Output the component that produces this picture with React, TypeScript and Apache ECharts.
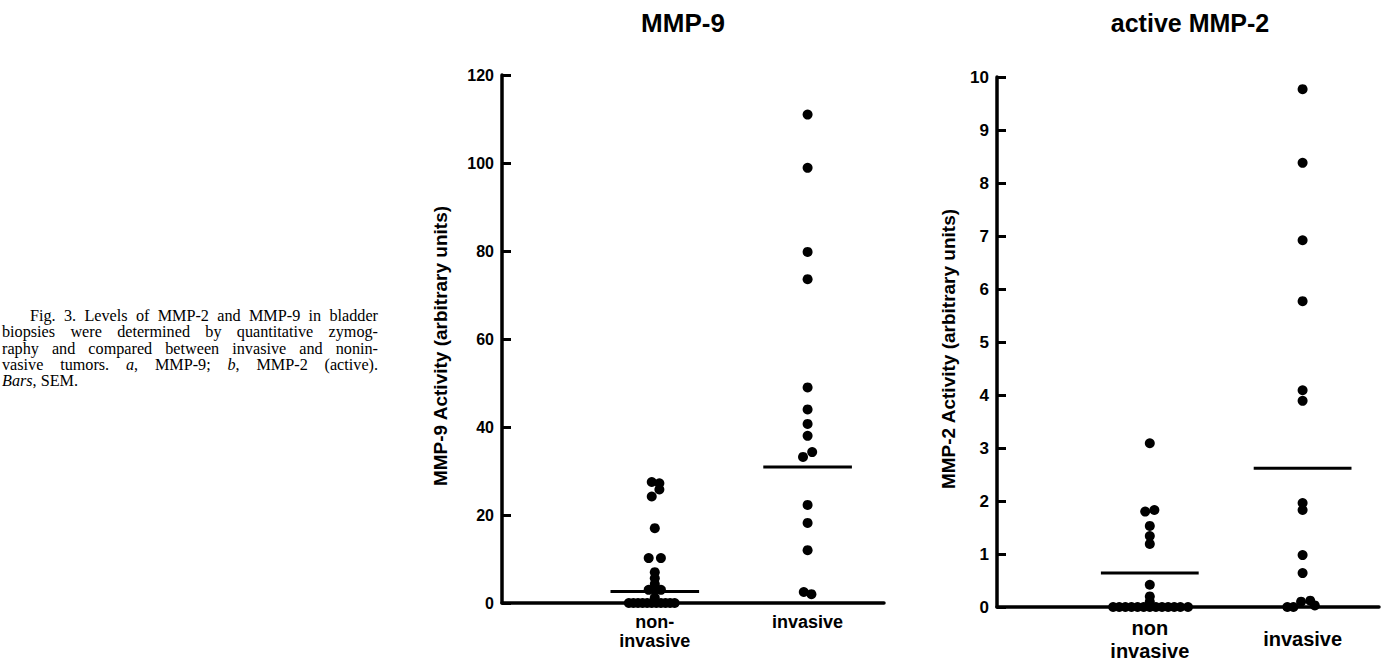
import React, { useEffect, useRef } from "react";
import * as echarts from "echarts";

// ---------- data ----------
const categoriesA = ["non-\ninvasive", "invasive"];
const categoriesB = ["non\ninvasive", "invasive"];

const titleA = "MMP-9";
const titleB = "active MMP-2";
const yNameA = "MMP-9 Activity (arbitrary units)";
const yNameB = "MMP-2 Activity (arbitrary units)";

// MMP-9, non-invasive (values, horizontal jitter)
const mmp9Non = [0, 0, 0, 0, 0, 0, 0, 0, 0, 0, 0, 1.2, 3.0, 3.0, 3.0, 4.3, 5.6, 7.0, 10.2, 10.2, 17.0, 24.2, 25.8, 27.2, 27.5];
const mmp9NonJitter = [-0.17, -0.14, -0.11, -0.08, -0.05, -0.02, 0.01, 0.04, 0.07, 0.1, 0.13, 0.0, -0.04, 0.0, 0.04, 0.0, 0.0, 0.0, -0.04, 0.04, 0.0, -0.02, 0.03, 0.03, -0.02];
// MMP-9, invasive
const mmp9Inv = [2.0, 2.5, 12.0, 18.2, 22.3, 33.2, 34.3, 38.0, 40.7, 44.0, 49.0, 73.6, 79.8, 98.9, 111.0];
const mmp9InvJitter = [0.025, -0.025, 0, 0, 0, -0.03, 0.03, 0, 0, 0, 0, 0, 0, 0, 0];
const mmp9Means = [2.6, 30.9];

// MMP-2 (active), non-invasive
const mmp2Non = [0, 0, 0, 0, 0, 0, 0, 0, 0, 0, 0, 0, 0, 0.1, 0.2, 0.42, 1.19, 1.34, 1.53, 1.8, 1.83, 3.09];
const mmp2NonJitter = [-0.24, -0.2, -0.16, -0.12, -0.08, -0.04, 0.0, 0.04, 0.08, 0.12, 0.16, 0.2, 0.25, 0, 0, 0, 0, 0, 0, -0.03, 0.03, 0];
// MMP-2 (active), invasive
const mmp2Inv = [0, 0, 0.1, 0.12, 0.03, 0.64, 0.98, 1.83, 1.96, 3.89, 4.09, 5.77, 6.92, 8.38, 9.77];
const mmp2InvJitter = [-0.1, -0.06, -0.01, 0.05, 0.08, 0, 0, 0, 0, 0, 0, 0, 0, 0, 0];
const mmp2Means = [0.64, 2.62];

const yTicksA = { min: 0, max: 120, interval: 20 };
const yTicksB = { min: 0, max: 10, interval: 1 };

// ---------- styling ----------
const FONT = '"Liberation Sans", Arial, Helvetica, sans-serif';
const INK = "#000";

function dots(values: number[], jitter: number[], pos: number) {
  return values.map((v, i) => [pos + jitter[i], v]);
}

function meanLine(mean: number, pos: number, half: number, gi: number) {
  return {
    type: "line",
    xAxisIndex: gi,
    yAxisIndex: gi,
    data: [
      [pos - half, mean],
      [pos + half, mean],
    ],
    symbol: "none",
    silent: true,
    lineStyle: { color: INK, width: 3, opacity: 1 },
    z: 4,
  };
}

function scatter(data: number[][], gi: number) {
  return {
    type: "scatter",
    xAxisIndex: gi,
    yAxisIndex: gi,
    data,
    symbol: "circle",
    symbolSize: 10,
    clip: false,
    silent: true,
    itemStyle: { color: INK, opacity: 1 },
    z: 5,
  };
}

export default function App() {
  const ref = useRef<HTMLDivElement>(null);

  useEffect(() => {
    if (!ref.current) return;
    const chart = echarts.init(ref.current, undefined, { renderer: "svg" });

    const xAxisBase = (gi: number, cats: string[], fontSize: number, lineHeight: number) => ({
      gridIndex: gi,
      type: "value",
      min: 0,
      max: 2.5,
      interval: 0.5,
      axisLine: { show: true, onZero: false, lineStyle: { color: INK, width: 3.5 } },
      axisTick: { show: false },
      splitLine: { show: false },
      axisLabel: {
        color: INK,
        fontFamily: FONT,
        fontWeight: "bold",
        fontSize,
        lineHeight,
        margin: 9,
        showMinLabel: true,
        showMaxLabel: true,
        formatter: (v: number) => {
          if (Math.abs(v - 1) < 1e-6) return cats[0];
          if (Math.abs(v - 2) < 1e-6) return gi === 1 ? "{m|" + cats[1] + "}" : cats[1];
          return "";
        },
        rich: {
          m: {
            fontFamily: FONT,
            fontWeight: "bold",
            fontSize,
            lineHeight: lineHeight * 2,
            color: INK,
          },
        },
      },
    });

    const yAxisBase = (
      gi: number,
      t: { min: number; max: number; interval: number },
      name: string,
      nameGap: number,
      labelSize: number
    ) => ({
      gridIndex: gi,
      type: "value",
      min: t.min,
      max: t.max,
      interval: t.interval,
      name,
      nameLocation: "middle",
      nameRotate: 90,
      nameGap,
      nameTextStyle: {
        color: INK,
        fontFamily: FONT,
        fontWeight: "bold",
        fontSize: 19,
        padding: [0, 14, 0, 0],
      },
      axisLine: { show: true, onZero: false, lineStyle: { color: INK, width: 3.5 } },
      axisTick: { show: true, inside: true, length: 9, lineStyle: { color: INK, width: 3 } },
      splitLine: { show: false },
      axisLabel: {
        color: INK,
        fontFamily: FONT,
        fontWeight: "bold",
        fontSize: labelSize,
        margin: 8,
      },
    });

    chart.setOption({
      animation: false,
      backgroundColor: "#fff",
      grid: [
        { left: 502, top: 75, width: 382, height: 528 },
        { left: 997, top: 77, width: 382, height: 530 },
      ],
      xAxis: [xAxisBase(0, categoriesA, 18, 19), xAxisBase(1, categoriesB, 20, 23)],
      yAxis: [
        yAxisBase(0, yTicksA, yNameA, 52, 16),
        yAxisBase(1, yTicksB, yNameB, 39, 17),
      ],
      graphic: [
        {
          type: "text",
          x: 683,
          y: 23,
          style: {
            text: titleA,
            fill: INK,
            fontFamily: FONT,
            fontWeight: "bold",
            fontSize: 26,
            align: "center",
            verticalAlign: "middle",
          },
        },
        {
          type: "text",
          x: 1190,
          y: 23,
          style: {
            text: titleB,
            fill: INK,
            fontFamily: FONT,
            fontWeight: "bold",
            fontSize: 25,
            align: "center",
            verticalAlign: "middle",
          },
        },
      ],
      series: [
        scatter(dots(mmp9Non, mmp9NonJitter, 1), 0),
        scatter(dots(mmp9Inv, mmp9InvJitter, 2), 0),
        meanLine(mmp9Means[0], 1, 0.29, 0),
        meanLine(mmp9Means[1], 2, 0.29, 0),
        scatter(dots(mmp2Non, mmp2NonJitter, 1), 1),
        scatter(dots(mmp2Inv, mmp2InvJitter, 2), 1),
        meanLine(mmp2Means[0], 1, 0.32, 1),
        meanLine(mmp2Means[1], 2, 0.32, 1),
      ],
    });

    return () => chart.dispose();
  }, []);

  const lineStyle: React.CSSProperties = {
    textAlign: "justify",
    textAlignLast: "justify",
  };

  return (
    <div
      style={{
        position: "absolute",
        left: 0,
        top: 0,
        width: 1385,
        height: 666,
        overflow: "hidden",
        background: "#fff",
      }}
    >
      <div ref={ref} style={{ position: "absolute", left: 0, top: 0, width: 1385, height: 666 }} />
      <div
        style={{
          position: "absolute",
          left: 2,
          top: 308,
          width: 376,
          fontFamily: '"Liberation Serif", "Times New Roman", serif',
          fontSize: 16.2,
          lineHeight: "16.3px",
          color: INK,
        }}
      >
        <div style={{ ...lineStyle, paddingLeft: 28 }}>Fig. 3. Levels of MMP-2 and MMP-9 in bladder</div>
        <div style={lineStyle}>biopsies were determined by quantitative zymog-</div>
        <div style={lineStyle}>raphy and compared between invasive and nonin-</div>
        <div style={lineStyle}>
          vasive tumors. <i>a</i>, MMP-9; <i>b</i>, MMP-2 (active).
        </div>
        <div>
          <i>Bars</i>, SEM.
        </div>
      </div>
    </div>
  );
}
